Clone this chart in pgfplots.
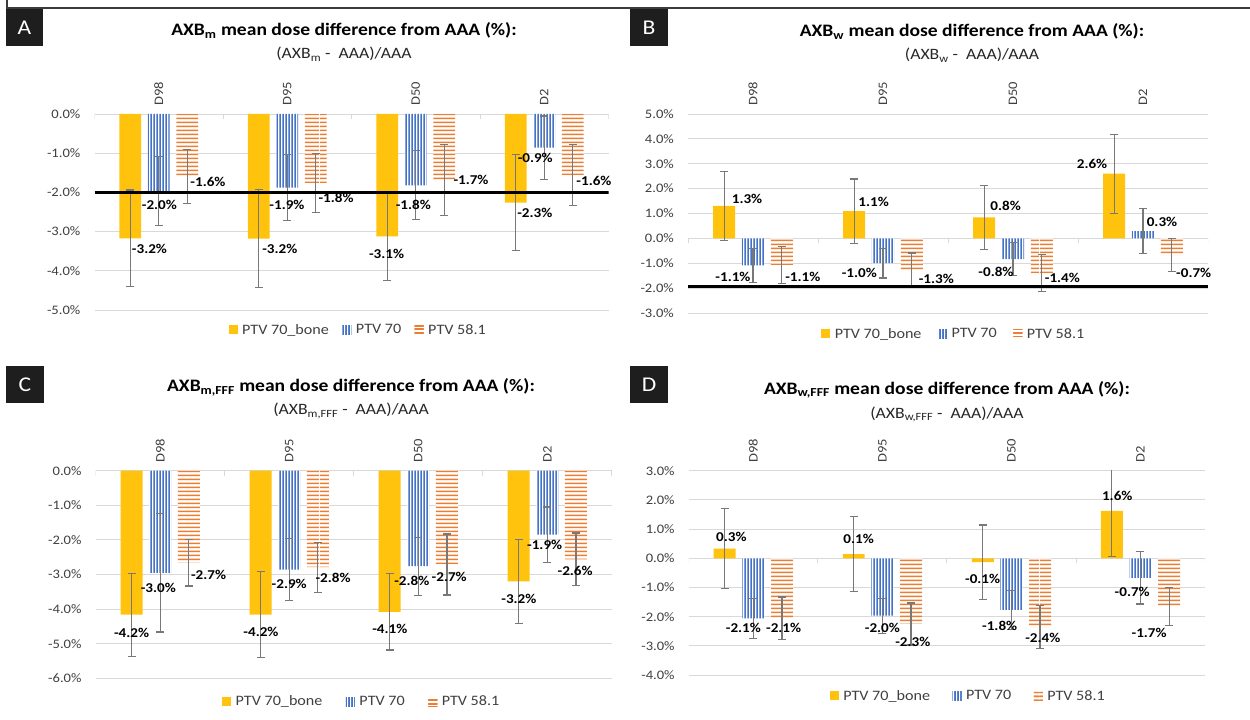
\documentclass[border=0pt]{standalone}
\usepackage{fontspec}
\setmainfont{Carlito}[FakeStretch=1.12]
\usepackage{pgfplots}
\pgfplotsset{compat=1.18}
\usepackage{pgfplotstable}
\usetikzlibrary{patterns.meta}

\definecolor{ybone}{HTML}{FFC30D}
\definecolor{bptv}{HTML}{4472C4}
\definecolor{optv}{HTML}{ED7D31}
\definecolor{tickc}{HTML}{404040}
\definecolor{catc}{HTML}{404040}
\definecolor{gridc}{HTML}{D9D9D9}
\definecolor{errc}{HTML}{787878}
\definecolor{boxc}{HTML}{1E1E1E}
\definecolor{framec}{HTML}{3C3C3C}
\definecolor{subc}{HTML}{262626}

\pgfdeclarepattern{
  name=vstripes, type=uncolored,
  bottom left={\pgfpointorigin}, top right={\pgfpoint{3bp}{80bp}},
  tile size={\pgfpoint{3bp}{80bp}},
  code={\pgfpathrectangle{\pgfpoint{0.6bp}{0bp}}{\pgfpoint{1.75bp}{80bp}}\pgfusepath{fill}}
}
\pgfdeclarepattern{
  name=hstripes, type=uncolored,
  bottom left={\pgfpointorigin}, top right={\pgfpoint{80bp}{3.6bp}},
  tile size={\pgfpoint{80bp}{3.6bp}},
  code={\pgfpathrectangle{\pgfpoint{0bp}{0.9bp}}{\pgfpoint{80bp}{1.8bp}}\pgfusepath{fill}}
}

\newcommand\tickfont{\fontsize{13bp}{14bp}\selectfont}
\newcommand\catfont{\fontsize{13bp}{14bp}\selectfont}
\newcommand\legfont{\fontsize{14.4bp}{15bp}\selectfont}
\newcommand\lblfont{\bfseries\fontsize{13.5bp}{14bp}\selectfont}
\newcommand\titfont{\bfseries\fontsize{17.5bp}{18bp}\selectfont}
\newcommand\subfont{\fontsize{15.8bp}{17bp}\selectfont}
\newcommand\letfont{\fontsize{21bp}{22bp}\selectfont}

% bar values and error half-widths: bone (yb,eb), PTV 70 (yp,ep), PTV 58.1 (yo,eo)
\pgfplotstableread{
x yb eb yp ep yo eo
0 -3.17 1.23 -1.97 0.88 -1.60 0.69
1 -3.18 1.25 -1.88 0.84 -1.76 0.75
2 -3.12 1.13 -1.82 0.88 -1.68 0.90
3 -2.26 1.23 -0.86 0.81 -1.56 0.78
}\dataA
\pgfplotstableread{
x yb eb yp ep yo eo
0 1.31 1.39 -1.09 0.69 -1.07 0.73
1 1.09 1.30 -1.00 0.59 -1.29 0.70
2 0.84 1.28 -0.83 0.67 -1.40 0.74
3 2.60 1.59 0.29 0.91 -0.67 0.65
}\dataB
\pgfplotstableread{
x yb eb yp ep yo eo
0 -4.16 1.20 -2.95 1.71 -2.66 0.67
1 -4.16 1.24 -2.86 0.90 -2.79 0.72
2 -4.08 1.10 -2.76 0.84 -2.71 0.88
3 -3.20 1.22 -1.85 0.80 -2.56 0.76
}\dataC
\pgfplotstableread{
x yb eb yp ep yo eo
0 0.33 1.38 -2.06 0.68 -2.06 0.73
1 0.14 1.28 -1.97 0.60 -2.25 0.72
2 -0.13 1.27 -1.77 0.66 -2.36 0.74
3 1.62 1.56 -0.67 0.90 -1.66 0.65
}\dataD

% data label positions (x, y in axis units) and shown value
\pgfplotstableread{
lx ly v
-0.072 -3.44 -3.2
0.942 -3.44 -3.2
1.773 -3.57 -3.1
2.927 -2.53 -2.3
0.005 -2.32 -2.0
0.998 -2.32 -1.9
1.981 -2.32 -1.8
2.93 -1.12 -0.9
0.383 -1.74 -1.6
1.38 -2.15 -1.8
2.43 -1.68 -1.7
3.387 -1.71 -1.6
}\labA
\pgfplotstableread{
lx ly v
-0.046 1.60 1.3
0.928 1.48 1.1
1.943 1.29 0.8
2.608 3.00 2.6
-0.154 -1.56 -1.1
0.818 -1.37 -1.0
1.869 -1.33 -0.8
3.146 0.67 0.3
0.383 -1.56 -1.1
1.41 -1.64 -1.3
2.38 -1.60 -1.4
3.39 -1.37 -0.7
}\labB
\pgfplotstableread{
lx ly v
-0.222 -4.68 -4.2
0.781 -4.65 -4.2
1.78 -4.58 -4.1
2.78 -3.70 -3.2
-0.015 -3.40 -3.0
1.0 -3.28 -2.9
1.95 -3.18 -2.8
2.98 -2.15 -1.9
0.375 -3.02 -2.7
1.34 -3.11 -2.8
2.24 -3.08 -2.7
3.216 -2.90 -2.6
}\labC
\pgfplotstableread{
lx ly v
-0.17 0.74 0.3
0.816 0.65 0.1
1.777 -0.72 -0.1
2.82 2.15 1.6
-0.077 -2.40 -2.1
1.0 -2.40 -2.0
1.909 -2.32 -1.8
2.936 -1.16 -0.7
0.235 -2.40 -2.1
1.236 -2.85 -2.3
2.243 -2.72 -2.4
3.067 -2.55 -1.7
}\labD

\pgfplotsset{
  errs/.style={error bars/y dir=both, error bars/y explicit,
    error bars/error bar style={errc, line width=1.2bp},
    error bars/error mark options={errc, rotate=90, mark size=4bp, line width=1.2bp}},
  bone/.style={ybar, bar width=0.17, bar shift=0, draw=none, fill=ybone, errs,
    legend image code/.code={\fill[ybone] (0bp,-4.5bp) rectangle (9bp,4.5bp);}},
  pseventy/.style={ybar, bar width=0.17, bar shift=0, draw=none, fill=white,
    postaction={pattern=vstripes, pattern color=bptv}, errs,
    legend image code/.code={\fill[white,postaction={pattern=vstripes,pattern color=bptv}] (0bp,-4.5bp) rectangle (9bp,4.5bp);}},
  pfifty/.style={ybar, bar width=0.17, bar shift=0, draw=none, fill=white,
    postaction={pattern=hstripes, pattern color=optv}, errs,
    legend image code/.code={\fill[white,postaction={pattern=hstripes,pattern color=optv}] (0bp,-4.5bp) rectangle (9bp,4.5bp);}},
  lbls/.style={forget plot, only marks, mark=*, mark size=0pt, mark options={draw=none,fill=none},
    point meta=explicit,
    nodes near coords={\pgfmathprintnumber[fixed,fixed zerofill,precision=1,assume math mode=true]{\pgfplotspointmeta}\%},
    every node near coord/.append style={anchor=center, inner sep=0pt, font=\lblfont, text=black}},
  refline/.style={forget plot, black, line width=2.4bp, mark=none},
  panel/.style={scale only axis, enlargelimits=false, xmin=-0.5, xmax=3.5,
    axis line style={draw=none}, major tick length=0pt, tick style={draw=none},
    ymajorgrids=true, grid style={gridc, line width=0.9bp},
    xtick={0,1,2,3}, xticklabels={D98,D95,D50,D2}, xticklabel pos=right,
    xticklabel style={rotate=90, anchor=west, inner xsep=8bp, inner ysep=0pt, font=\catfont, text=catc},
    yticklabel style={inner sep=0pt, anchor=east, xshift=-14bp, font=\tickfont, text=tickc},
    legend columns=3,
    legend style={draw=none, fill=none, anchor=center, font=\legfont, text=tickc,
      inner sep=0pt, nodes={inner sep=1.5bp},
      /tikz/every odd column/.append style={column sep=3bp}}},
}

\begin{document}
\begin{tikzpicture}[x=1bp,y=1bp]
\useasboundingbox (0,0) rectangle (1250,720);
\fill[white] (0,0) rectangle (1250,720);
\draw[framec, line width=1.6bp] (7,720) -- (7,712) -- (1250,712);

% ---------------- Panel A ----------------
\begin{axis}[panel, at={(94.5bp,410bp)}, anchor=south west, width=514bp, height=196bp,
  ymin=-5, ymax=0, ytick={-5,-4,-3,-2,-1,0},
  yticklabels={-5.0\%,-4.0\%,-3.0\%,-2.0\%,-1.0\%,0.0\%},
  legend style={at={(0.5126,-0.102)}, /tikz/every even column/.append style={column sep=12bp}}]
\addplot[bone] table[x expr=\thisrow{x}-0.222,y=yb,y error=eb] {\dataA};
\addplot[pseventy] table[x=x,y=yp,y error=ep] {\dataA};
\addplot[pfifty] table[x expr=\thisrow{x}+0.222,y=yo,y error=eo] {\dataA};
\addplot[refline] coordinates {(-0.5,-2) (3.5,-2)};
\pgfplotsinvokeforeach{-0.5,0.5,1.5,2.5,3.5}{\draw[gridc, line width=0.9bp] (axis cs:#1,0) -- ++(0bp,-5bp);}
\addplot[lbls] table[x=lx,y=ly,meta=v] {\labA};
\addlegendentry{PTV 70\_bone}
\addlegendentry{PTV 70}
\addlegendentry{PTV 58.1}
\end{axis}

% ---------------- Panel B ----------------
\begin{axis}[panel, at={(688bp,407bp)}, anchor=south west, width=520bp, height=199bp,
  ymin=-3, ymax=5, ytick={-3,-2,-1,0,1,2,3,4,5},
  yticklabels={-3.0\%,-2.0\%,-1.0\%,0.0\%,1.0\%,2.0\%,3.0\%,4.0\%,5.0\%},
  legend style={at={(0.5106,-0.1055)}, /tikz/every even column/.append style={column sep=15bp}}]
\addplot[bone] table[x expr=\thisrow{x}-0.222,y=yb,y error=eb] {\dataB};
\addplot[pseventy] table[x=x,y=yp,y error=ep] {\dataB};
\addplot[pfifty] table[x expr=\thisrow{x}+0.222,y=yo,y error=eo] {\dataB};
\addplot[refline] coordinates {(-0.5,-1.93) (3.5,-1.93)};
\pgfplotsinvokeforeach{-0.5,0.5,1.5,2.5,3.5}{\draw[gridc, line width=0.9bp] (axis cs:#1,0) -- ++(0bp,-5bp);}
\addplot[lbls] table[x=lx,y=ly,meta=v] {\labB};
\addlegendentry{PTV 70\_bone}
\addlegendentry{PTV 70}
\addlegendentry{PTV 58.1}
\end{axis}

% ---------------- Panel C ----------------
\begin{axis}[panel, at={(95.7bp,41.7bp)}, anchor=south west, width=516.1bp, height=207.6bp,
  ymin=-6, ymax=0, ytick={-6,-5,-4,-3,-2,-1,0},
  yticklabels={-6.0\%,-5.0\%,-4.0\%,-3.0\%,-2.0\%,-1.0\%,0.0\%},
  legend style={at={(0.515,-0.1127)}, /tikz/every even column/.append style={column sep=22bp}}]
\addplot[bone] table[x expr=\thisrow{x}-0.222,y=yb,y error=eb] {\dataC};
\addplot[pseventy] table[x=x,y=yp,y error=ep] {\dataC};
\addplot[pfifty] table[x expr=\thisrow{x}+0.222,y=yo,y error=eo] {\dataC};
\pgfplotsinvokeforeach{-0.5,0.5,1.5,2.5,3.5}{\draw[gridc, line width=0.9bp] (axis cs:#1,0) -- ++(0bp,-5bp);}
\addplot[lbls] table[x=lx,y=ly,meta=v] {\labC};
\addlegendentry{PTV 70\_bone}
\addlegendentry{PTV 70}
\addlegendentry{PTV 58.1}
\end{axis}

% ---------------- Panel D ----------------
\begin{axis}[panel, at={(688.8bp,45bp)}, anchor=south west, width=516.2bp, height=204.3bp,
  ymin=-4, ymax=3, ytick={-4,-3,-2,-1,0,1,2,3},
  yticklabels={-4.0\%,-3.0\%,-2.0\%,-1.0\%,0.0\%,1.0\%,2.0\%,3.0\%},
  legend style={at={(0.541,-0.1028)}, /tikz/every even column/.append style={column sep=21bp}}]
\addplot[bone] table[x expr=\thisrow{x}-0.222,y=yb,y error=eb] {\dataD};
\addplot[pseventy] table[x=x,y=yp,y error=ep] {\dataD};
\addplot[pfifty] table[x expr=\thisrow{x}+0.222,y=yo,y error=eo] {\dataD};
\pgfplotsinvokeforeach{-0.5,0.5,1.5,2.5,3.5}{\draw[gridc, line width=0.9bp] (axis cs:#1,0) -- ++(0bp,-5bp);}
\addplot[lbls] table[x=lx,y=ly,meta=v] {\labD};
\addlegendentry{PTV 70\_bone}
\addlegendentry{PTV 70}
\addlegendentry{PTV 58.1}
\end{axis}

% ---------------- titles ----------------
\node[anchor=base, font=\titfont] at (344,684) {AXB\textsubscript{m} mean dose difference from AAA (\%):};
\node[anchor=base, font=\subfont, text=subc] at (344,661) {(AXB\textsubscript{m} -\ \ AAA)/AAA};
\node[anchor=base, font=\titfont] at (972,683) {AXB\textsubscript{w} mean dose difference from AAA (\%):};
\node[anchor=base, font=\subfont, text=subc] at (972,660) {(AXB\textsubscript{w} -\ \ AAA)/AAA};
\node[anchor=base, font=\titfont] at (351,328.3) {AXB\textsubscript{m,FFF} mean dose difference from AAA (\%):};
\node[anchor=base, font=\subfont, text=subc] at (351,305) {(AXB\textsubscript{m,FFF} -\ \ AAA)/AAA};
\node[anchor=base, font=\titfont] at (947,325.7) {AXB\textsubscript{w,FFF} mean dose difference from AAA (\%):};
\node[anchor=base, font=\subfont, text=subc] at (947,301.7) {(AXB\textsubscript{w,FFF} -\ \ AAA)/AAA};

% ---------------- panel letters ----------------
\fill[boxc] (6,674) rectangle (43,711);
\node[text=white, font=\letfont] at (24.5,692.5) {A};
\fill[boxc] (630,674) rectangle (668,711);
\node[text=white, font=\letfont] at (649,692.5) {B};
\fill[boxc] (6,317) rectangle (44,354);
\node[text=white, font=\letfont] at (25,335.5) {C};
\fill[boxc] (630,317) rectangle (668,354);
\node[text=white, font=\letfont] at (649,335.5) {D};
\end{tikzpicture}
\end{document}
